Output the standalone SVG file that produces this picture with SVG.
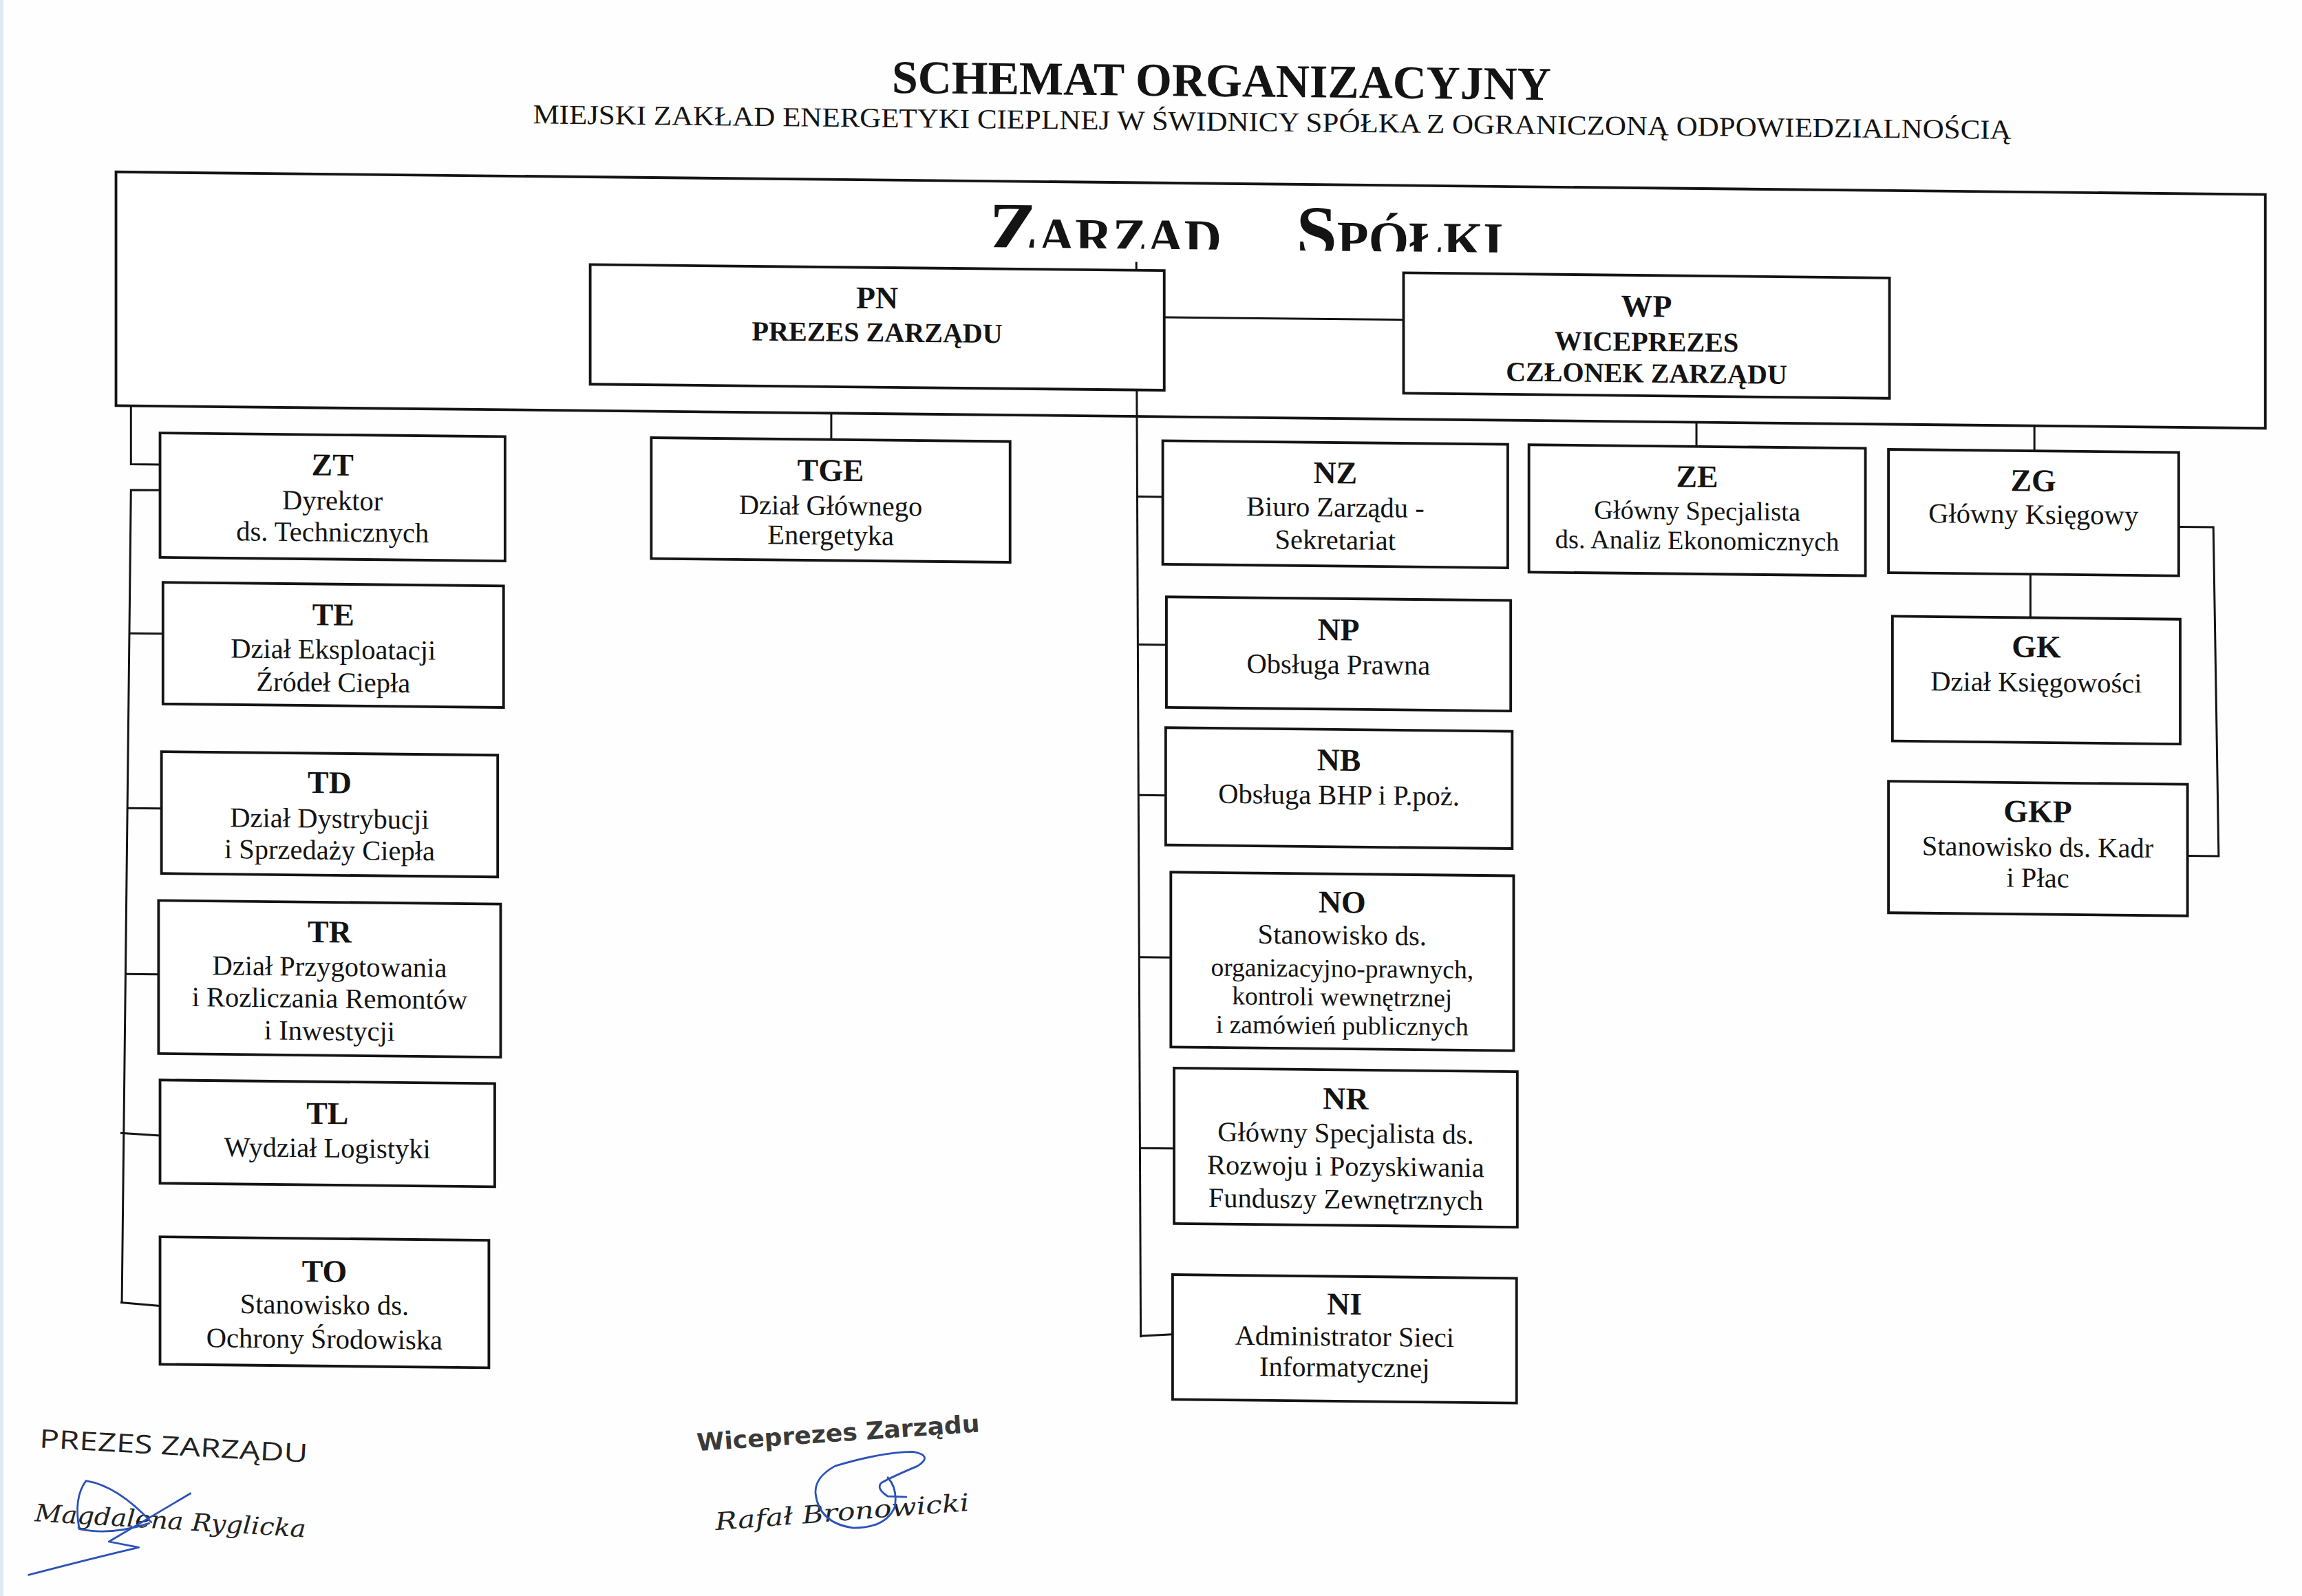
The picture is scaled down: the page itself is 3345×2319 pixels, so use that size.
<svg xmlns="http://www.w3.org/2000/svg" width="3345" height="2319" viewBox="0 0 3345 2319">
<defs>
<style>
.b{fill:#fff;stroke:#141414;stroke-width:1.8}
.c{fill:none;stroke:#141414;stroke-width:1.4}
.k{font-family:"Liberation Serif","Times New Roman",serif;font-weight:bold;font-size:21.5px;text-anchor:middle;fill:#141414}
.t{font-family:"Liberation Serif","Times New Roman",serif;font-size:19px;text-anchor:middle;fill:#141414}
.s{font-size:17.6px}
.e{font-size:18px}
.h{font-size:18.8px}
.sig{fill:none;stroke:#2a52b8;stroke-width:1.3;stroke-linecap:round;stroke-linejoin:round}
</style>
<clipPath id="clipZ"><rect x="600" y="125" width="500" height="44.5"/></clipPath>
</defs>
<rect width="3345" height="2319" fill="#fefefe"/>
<rect x="0" y="0" width="5" height="2319" fill="#dfe9f2"/>
<g transform="scale(2.133333)">
<g transform="matrix(1 0.0105 0 1 0 -8.232)">
<g id="title">
<text x="832" y="65.1" font-family="Liberation Serif, Times New Roman, serif" font-weight="bold" font-size="32" text-anchor="middle" textLength="449" lengthAdjust="spacingAndGlyphs" fill="#141414">SCHEMAT ORGANIZACYJNY</text>
<text x="866.5" y="88.5" font-family="Liberation Serif, Times New Roman, serif" font-size="18.7" text-anchor="middle" textLength="1007" lengthAdjust="spacingAndGlyphs" fill="#141414">MIEJSKI ZAKŁAD ENERGETYKI CIEPLNEJ W ŚWIDNICY SPÓŁKA Z OGRANICZONĄ ODPOWIEDZIALNOŚCIĄ</text>
</g>
<g id="zarzad">
<rect class="b" x="79" y="124.5" width="1464" height="159.2"/>
<text clip-path="url(#clipZ)" y="173.4" font-family="Liberation Serif, Times New Roman, serif" font-weight="bold" font-size="50" font-variant="small-caps" fill="#141414"><tspan x="673.6">Zarząd</tspan><tspan x="882.9">Spółki</tspan></text>
</g>
<g id="connectors">
<path class="c" d="M793 216H956"/>
<path class="c" d="M774 178.5V184.2"/>
<path class="c" d="M774.3 265.7L777 911"/>
<path class="c" d="M775 338.3H792M775.5 439.1H794.5M775.8 541.6H794M776 652H797.5M776.5 782.1H799.7M777 910L798.7 908.6"/>
<path class="c" d="M566.2 283.7V301.7"/>
<path class="c" d="M1155.5 283.7V300.2"/>
<path class="c" d="M1385.7 283.7V300.8"/>
<path class="c" d="M1383 384.8V414.4"/>
<path class="c" d="M1484 351.5H1507.6L1511.2 575.5H1490"/>
<path class="c" d="M89.2 283.7V323.5H109"/>
<path class="c" d="M109 341H89.2L83 895"/>
<path class="c" d="M88 438.7H111M87 557.7H110M86 670.7H108M82 779L109 780.5M82 894.5L109 896.5"/>
</g>
<g id="PN">
<rect class="b" x="402" y="184.2" width="391" height="81.5"/>
<text class="k" x="597.5" y="212">PN</text>
<text class="k h" x="597.5" y="234.6">PREZES ZARZĄDU</text>
</g>
<g id="WP">
<rect class="b" x="956" y="184" width="331" height="82"/>
<text class="k" x="1121.5" y="212.1">WP</text>
<text class="k h" x="1121.5" y="235.5">WICEPREZES</text>
<text class="k h" x="1121.5" y="256.9">CZŁONEK ZARZĄDU</text>
</g>
<g id="ZT">
<rect class="b" x="109" y="302" width="235" height="84.7"/>
<text class="k" x="226.5" y="329.7">ZT</text>
<text class="t" x="226.5" y="353.1">Dyrektor</text>
<text class="t" x="226.5" y="374.6">ds. Technicznych</text>
</g>
<g id="TE">
<rect class="b" x="111" y="403.7" width="232" height="82.8"/>
<text class="k" x="227" y="431.7">TE</text>
<text class="t" x="227" y="454.5">Dział Eksploatacji</text>
<text class="t" x="227" y="476.9">Źródeł Ciepła</text>
</g>
<g id="TD">
<rect class="b" x="110" y="519" width="229" height="83"/>
<text class="k" x="224.5" y="546">TD</text>
<text class="t" x="224.5" y="569.7">Dział Dystrybucji</text>
<text class="t" x="224.5" y="591.2">i Sprzedaży Ciepła</text>
</g>
<g id="TR">
<rect class="b" x="108" y="620.4" width="233" height="104.3"/>
<text class="k" x="224.5" y="647.7">TR</text>
<text class="t" x="224.5" y="670.6">Dział Przygotowania</text>
<text class="t" x="224.5" y="692.2">i Rozliczania Remontów</text>
<text class="t" x="224.5" y="714.3">i Inwestycji</text>
</g>
<g id="TL">
<rect class="b" x="109" y="742.7" width="228" height="70.3"/>
<text class="k" x="223" y="771.4">TL</text>
<text class="t" x="223" y="794.1">Wydział Logistyki</text>
</g>
<g id="TO">
<rect class="b" x="109" y="849.5" width="224" height="86.8"/>
<text class="k" x="221" y="879" font-size="24">TO</text>
<text class="t" x="221" y="900.9">Stanowisko ds.</text>
<text class="t" x="221" y="924.2">Ochrony Środowiska</text>
</g>
<g id="TGE">
<rect class="b" x="443.6" y="301.7" width="244.4" height="82.3"/>
<text class="k" x="565.8" y="329.8">TGE</text>
<text class="t" x="565.8" y="353">Dział Głównego</text>
<text class="t" x="565.8" y="373.2">Energetyka</text>
</g>
<g id="NZ">
<rect class="b" x="792" y="300.1" width="235" height="84.1"/>
<text class="k" x="909.5" y="327.9">NZ</text>
<text class="t" x="909.5" y="350.5">Biuro Zarządu -</text>
<text class="t" x="909.5" y="372.8">Sekretariat</text>
</g>
<g id="NP">
<rect class="b" x="794.5" y="406.4" width="234.5" height="75.3"/>
<text class="k" x="911.7" y="434.7">NP</text>
<text class="t" x="911.7" y="457.6">Obsługa Prawna</text>
</g>
<g id="NB">
<rect class="b" x="794" y="495.5" width="236" height="79.9"/>
<text class="k" x="912" y="523.5">NB</text>
<text class="t" x="912" y="546.4">Obsługa BHP i P.poż.</text>
</g>
<g id="NO">
<rect class="b" x="797.5" y="593.9" width="233.5" height="119.1"/>
<text class="k" x="914.2" y="620.3">NO</text>
<text class="t" x="914.2" y="641.8">Stanowisko ds.</text>
<text class="t s" x="914.2" y="664.1">organizacyjno-prawnych,</text>
<text class="t s" x="914.2" y="683.5">kontroli wewnętrznej</text>
<text class="t s" x="914.2" y="703">i zamówień publicznych</text>
</g>
<g id="NR">
<rect class="b" x="799.7" y="727.3" width="233.8" height="105.9"/>
<text class="k" x="916.6" y="754.1">NR</text>
<text class="t" x="916.6" y="776.7">Główny Specjalista ds.</text>
<text class="t" x="916.6" y="799.3">Rozwoju i Pozyskiwania</text>
<text class="t" x="916.6" y="821.7">Funduszy Zewnętrznych</text>
</g>
<g id="NI">
<rect class="b" x="798.7" y="868" width="234.3" height="85"/>
<text class="k" x="915.8" y="893.9">NI</text>
<text class="t" x="915.8" y="915.2">Administrator Sieci</text>
<text class="t" x="915.8" y="936.2">Informatycznej</text>
</g>
<g id="ZE">
<rect class="b" x="1041.4" y="300.2" width="229.2" height="86.8"/>
<text class="k" x="1156" y="327.9">ZE</text>
<text class="t e" x="1156" y="350">Główny Specjalista</text>
<text class="t e" x="1156" y="370.2">ds. Analiz Ekonomicznych</text>
</g>
<g id="ZG">
<rect class="b" x="1286.3" y="300.8" width="197.7" height="84"/>
<text class="k" x="1385" y="328.2">ZG</text>
<text class="t" x="1385" y="350.3">Główny Księgowy</text>
</g>
<g id="GK">
<rect class="b" x="1289" y="414.4" width="196" height="85"/>
<text class="k" x="1387" y="441.3">GK</text>
<text class="t" x="1387" y="464.7">Dział Księgowości</text>
</g>
<g id="GKP">
<rect class="b" x="1286.3" y="526.8" width="203.7" height="89.6"/>
<text class="k" x="1388" y="553.5">GKP</text>
<text class="t" x="1388" y="576.9">Stanowisko ds. Kadr</text>
<text class="t" x="1388" y="597.9">i Płac</text>
</g>
</g>
<g id="signatures">
<text transform="translate(26.6 985.9) rotate(3.2)" font-family="Open Sans, DejaVu Sans, sans-serif" font-size="17.5" textLength="183" lengthAdjust="spacingAndGlyphs" fill="#222">PREZES ZARZĄDU</text>
<text transform="translate(23.4 1036) rotate(3.4)" font-family="DejaVu Serif, Liberation Serif, serif" font-style="italic" font-size="16.5" textLength="185" lengthAdjust="spacingAndGlyphs" fill="#222">Magdalena Ryglicka</text>
<path class="sig" d="M101.6 1037.5Q75 1046 54 1041.4Q50 1020 58.6 1008.6Q80 1012 103 1036.7"/>
<path class="sig" d="M129.7 1017.2L74.2 1050L94.5 1053.9Q60 1062 19.5 1072.7"/>
<text transform="translate(475 988.3) rotate(-3.9)" font-family="DejaVu Sans, sans-serif" font-weight="bold" font-size="16.5" textLength="193" lengthAdjust="spacingAndGlyphs" fill="#3a3a3a">Wiceprezes Zarządu</text>
<text transform="translate(487.5 1042.2) rotate(-4.4)" font-family="DejaVu Serif, Liberation Serif, serif" font-style="italic" font-size="16.5" textLength="173.5" lengthAdjust="spacingAndGlyphs" fill="#222">Rafał Bronowicki</text>
<path class="sig" d="M617.2 1019.6L604.7 1019.1Q596.9 1014.1 600 1010.2Q604.7 1007.1 625 998.5Q636 991.4 621.9 988.8Q600 989.1 568.8 998.5Q554.7 1006.3 555.5 1017.2Q557.8 1037.5 581.3 1040.7Q603.1 1040.7 609.4 1026.6Q611.7 1014.1 604.7 1006.3"/>
</g>
</g>
</svg>
